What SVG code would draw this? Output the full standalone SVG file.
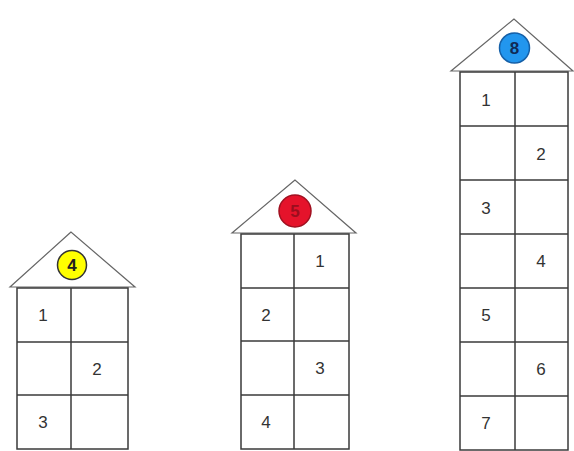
<svg xmlns="http://www.w3.org/2000/svg" width="574" height="451" viewBox="0 0 574 451">
<style>
.roof{fill:#fff;stroke:#666;stroke-width:1.2}
.wall{fill:#fff;stroke:#3a3a3a;stroke-width:1.5}
.ln{stroke:#3a3a3a;stroke-width:1.5}
.n{font-family:"Liberation Sans",Arial,sans-serif;font-size:17px;fill:#333;text-anchor:middle}
.c{font-family:"Liberation Sans",Arial,sans-serif;font-size:17px;font-weight:bold;text-anchor:middle}
</style>
<rect width="574" height="451" fill="#fff"/>
<g id="house4">
<polygon class="roof" points="71,232 10,287 135,287"/>
<circle cx="72" cy="265" r="14.5" fill="#ffff00" stroke="#333" stroke-width="1.5"/>
<text class="c" x="72" y="271" fill="#222">4</text>
<rect class="wall" x="17" y="288" width="111" height="161"/>
<line class="ln" x1="71" y1="288" x2="71" y2="449"/>
<line class="ln" x1="17" y1="342" x2="128" y2="342"/>
<line class="ln" x1="17" y1="395" x2="128" y2="395"/>
<text class="n" x="43" y="321">1</text>
<text class="n" x="97" y="375">2</text>
<text class="n" x="43" y="428">3</text>
</g>
<g id="house5">
<polygon class="roof" points="295,180 232,233 356,233"/>
<circle cx="295" cy="211" r="16" fill="#e5132b" stroke="#a01020" stroke-width="1.5"/>
<text class="c" x="295" y="217" fill="#9a0e1e">5</text>
<rect class="wall" x="241" y="234" width="108" height="215"/>
<line class="ln" x1="294" y1="234" x2="294" y2="449"/>
<line class="ln" x1="241" y1="288" x2="349" y2="288"/>
<line class="ln" x1="241" y1="341" x2="349" y2="341"/>
<line class="ln" x1="241" y1="395" x2="349" y2="395"/>
<text class="n" x="320" y="267">1</text>
<text class="n" x="266" y="321">2</text>
<text class="n" x="320" y="374">3</text>
<text class="n" x="266" y="428">4</text>
</g>
<g id="house8">
<polygon class="roof" points="514,19 451,71 573,71"/>
<circle cx="514.5" cy="48" r="15" fill="#2296ee" stroke="#1560a8" stroke-width="1.5"/>
<text class="c" x="514.5" y="54" fill="#102a55">8</text>
<rect class="wall" x="460" y="72" width="108" height="378"/>
<line class="ln" x1="515" y1="72" x2="515" y2="450"/>
<line class="ln" x1="460" y1="126" x2="568" y2="126"/>
<line class="ln" x1="460" y1="180" x2="568" y2="180"/>
<line class="ln" x1="460" y1="234" x2="568" y2="234"/>
<line class="ln" x1="460" y1="288" x2="568" y2="288"/>
<line class="ln" x1="460" y1="342" x2="568" y2="342"/>
<line class="ln" x1="460" y1="396" x2="568" y2="396"/>
<text class="n" x="486" y="106">1</text>
<text class="n" x="541" y="160">2</text>
<text class="n" x="486" y="214">3</text>
<text class="n" x="541" y="267">4</text>
<text class="n" x="486" y="321">5</text>
<text class="n" x="541" y="375">6</text>
<text class="n" x="486" y="429">7</text>
</g>
</svg>
